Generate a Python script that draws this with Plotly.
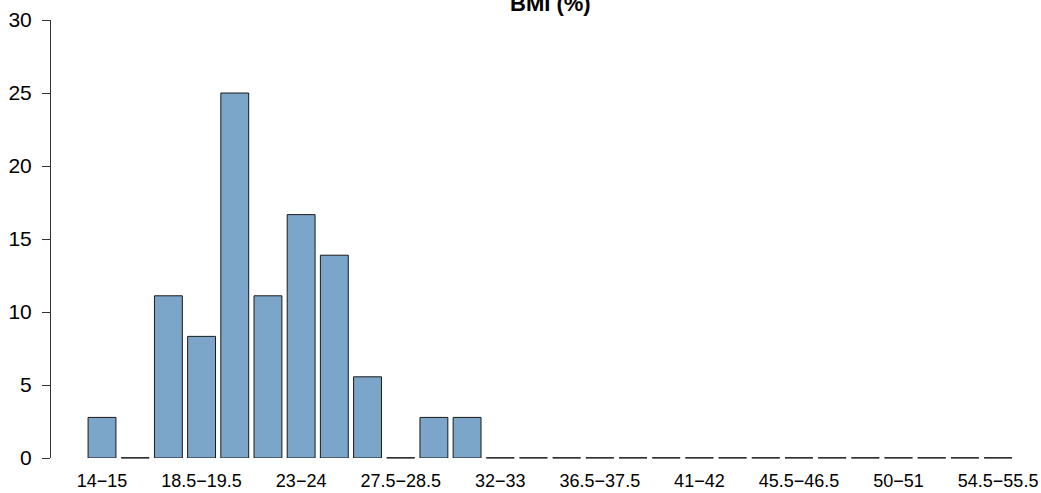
import plotly.graph_objects as go

# BMI bins (1.5 step) and percentage of subjects in each
bin_labels = [
    '14\u221215', '15.5\u221216.5', '17\u221218', '18.5\u221219.5', '20\u221221',
    '21.5\u221222.5', '23\u221224', '24.5\u221225.5', '26\u221227', '27.5\u221228.5',
    '29\u221230', '30.5\u221231.5', '32\u221233', '33.5\u221234.5', '35\u221236',
    '36.5\u221237.5', '38\u221239', '39.5\u221240.5', '41\u221242', '42.5\u221243.5',
    '44\u221245', '45.5\u221246.5', '47\u221248', '48.5\u221249.5', '50\u221251',
    '51.5\u221252.5', '53\u221254', '54.5\u221255.5',
]
percent = [
    2.78, 0, 11.11, 8.33, 25.0, 11.11, 16.67, 13.89, 5.56, 0,
    2.78, 2.78, 0, 0, 0, 0, 0, 0, 0, 0,
    0, 0, 0, 0, 0, 0, 0, 0,
]
y_ticks = [0, 5, 10, 15, 20, 25, 30]

pos = list(range(len(bin_labels)))
zero_pos = [p for p, v in zip(pos, percent) if v == 0]
label_pos = pos[::3]
label_text = bin_labels[::3]

fig = go.Figure()

fig.add_trace(
    go.Bar(
        x=pos,
        y=percent,
        width=0.84,
        marker_color='#7ba5c9',
        marker_line=dict(color='#1a1a1a', width=1),
    )
)

# empty bins are drawn as a flat line like in base R barplot
fig.add_trace(
    go.Scatter(
        x=zero_pos,
        y=[0] * len(zero_pos),
        mode='markers',
        marker=dict(symbol='line-ew', size=20, line=dict(color='#1a1a1a', width=1.2)),
        cliponaxis=False,
    )
)

fig.add_annotation(
    text='<b>BMI (%)</b>',
    xref='paper', yref='paper',
    x=0.515, y=1.037,
    xanchor='center', yanchor='middle',
    showarrow=False,
    font=dict(family='Liberation Sans, Arial', size=22, color='#000000'),
)

fig.update_layout(
    width=1041,
    height=493,
    margin=dict(l=51, r=20, t=20, b=35, autoexpand=False),
    paper_bgcolor='white',
    plot_bgcolor='white',
    showlegend=False,
    font=dict(family='Liberation Sans, Arial', color='#000000'),
    xaxis=dict(
        range=[-1.537, 27.69],
        tickmode='array',
        tickvals=label_pos,
        ticktext=label_text,
        tickfont=dict(size=18),
        showgrid=False,
        zeroline=False,
        showline=False,
        ticks='outside',
        ticklen=6,
        tickcolor='rgba(0,0,0,0)',
        automargin=False,
    ),
    yaxis=dict(
        range=[0, 30],
        tickmode='array',
        tickvals=y_ticks,
        tickfont=dict(size=21),
        showgrid=False,
        zeroline=False,
        showline=True,
        linecolor='#333333',
        linewidth=1,
        ticks='outside',
        ticklen=8,
        tickcolor='#333333',
        ticklabelstandoff=6,
        automargin=False,
    ),
)

# drop the default page margin so the figure sits at the window corner
fig.write_html(
    'out.html',
    config={'displayModeBar': False},
    post_script="document.body.style.margin='0px'; document.body.style.overflow='hidden';",
)
